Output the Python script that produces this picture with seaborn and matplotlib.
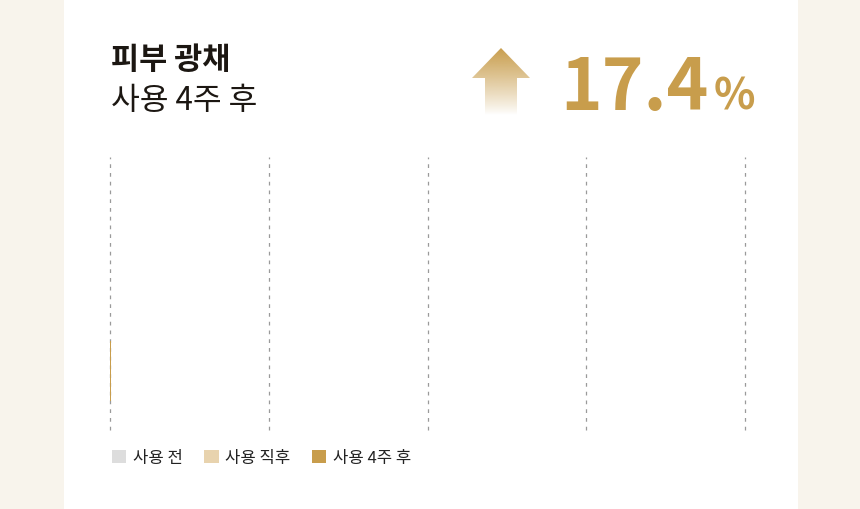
import numpy as np
import pandas as pd
import seaborn as sns
import matplotlib.pyplot as plt
from matplotlib.patches import Patch, Polygon, Rectangle

# data
categories = ['사용 전', '사용 직후', '사용 4주 후']
values = [0.0, 0.0, 0.15]
colors = ['#dddddd', '#e8d3ae', '#c89d4c']
title = '피부 광채'
subtitle = '사용 4주 후'
increase = '17.4'

sns.set_theme(style='white')
plt.rcParams['font.family'] = ['Noto Sans CJK KR', 'DejaVu Sans']

W, H = 860, 509
fig = plt.figure(figsize=(W / 100, H / 100), dpi=100)
fig.patch.set_facecolor('#f8f4ec')

# white card
fig.patches.append(Rectangle((64 / W, 0), (798 - 64) / W, 1, transform=fig.transFigure,
                             facecolor='white', edgecolor='none', zorder=-10))

# headline texts
fig.text(111 / W, 1 - 60 / H, title, fontsize=22, fontweight='bold', color='#1c1712', va='center')
fig.text(111 / W, 1 - 101 / H, subtitle, fontsize=22.5, color='#1c1712', va='center')

num = fig.text(560 / W, 1 - 110 / H, increase, fontsize=51, fontweight='bold', color='#c89d4c',
               va='baseline', ha='left')
fig.canvas.draw()
bb = num.get_window_extent()
fig.text((bb.x1 + 5) / W, 1 - 110 / H, '%', fontsize=31, fontweight='bold', color='#c89d4c',
         va='baseline', ha='left')

# gradient arrow
ax_arrow = fig.add_axes([472 / W, 1 - 115 / H, 58 / W, 68 / H])
ax_arrow.set_xlim(0, 58)
ax_arrow.set_ylim(0, 68)
ax_arrow.axis('off')
grad = np.zeros((100, 2, 4))
rgb = np.array([200, 157, 76]) / 255
grad[..., :3] = rgb
grad[..., 3] = np.linspace(1, 0, 100)[:, None] ** 0.9
img = ax_arrow.imshow(grad, extent=[0, 58, 0, 68], aspect='auto', origin='upper')
arrow = Polygon([(13, 0), (13, 37), (0, 37), (29, 67), (58, 37), (45, 37), (45, 0)],
                closed=True, transform=ax_arrow.transData, facecolor='none', edgecolor='none')
ax_arrow.add_patch(arrow)
img.set_clip_path(arrow)

# bar chart
ax = fig.add_axes([110 / W, 1 - 430 / H, (745 - 110) / W, (430 - 157) / H])
df = pd.DataFrame({'category': categories, 'value': values})
sns.barplot(data=df, x='value', y='category', hue='category', palette=colors,
            orient='h', width=0.75, legend=False, ax=ax, saturation=1, linewidth=0)
ax.set_xlim(0, 100)
ax.set_ylim(2.74, -0.68)
ax.set_xticks([0, 25, 50, 75, 100])
ax.xaxis.grid(True, linestyle=(0, (3, 4)), color='#9a9a9a', linewidth=0.9)
for gl in ax.get_xgridlines():
    gl.set_clip_on(False)
ax.set_axisbelow(True)
ax.set_xlabel('')
ax.set_ylabel('')
ax.set_xticklabels([])
ax.set_yticks([])
ax.tick_params(length=0)
ax.set_facecolor('none')
for s in ax.spines.values():
    s.set_visible(False)

handles = [Patch(facecolor=c, edgecolor='none') for c in colors]
fig.legend(handles, categories, loc='center left', bbox_to_anchor=(97 / W, 1 - 458 / H),
           ncol=3, frameon=False, fontsize=12, handlelength=0.85, handleheight=0.85,
           handletextpad=0.4, columnspacing=1.3, labelcolor='#222222')

fig.savefig('out.png', dpi=100)
